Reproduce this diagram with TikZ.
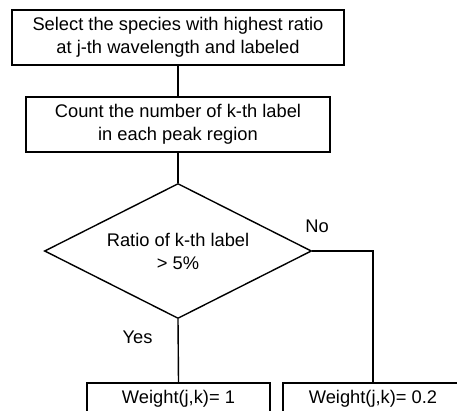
\documentclass[tikz,border=0pt]{standalone}
\usepackage{fontspec}
\setmainfont{Liberation Sans}
\usetikzlibrary{shapes.geometric,positioning}
\tikzset{
  stepbox/.style={draw,line width=1.4pt,rectangle,align=center,inner sep=0pt,font=\fontsize{18.3}{23}\selectfont},
  decision/.style={draw,line width=1.4pt,diamond,aspect=2,align=center,inner sep=0pt,minimum width=267pt,minimum height=135pt,font=\fontsize{18.3}{23}\selectfont},
  flowline/.style={draw,line width=1.4pt},
  branchlabel/.style={font=\fontsize{18.3}{20}\selectfont,inner sep=0pt},
}
\begin{document}
\begin{tikzpicture}[x=1pt,y=-1pt]
\useasboundingbox (0,0) rectangle (457,411);

% steps of the flow
\node[stepbox,minimum width=332pt,minimum height=55pt] (select) at (178,37.5) {Select the species with highest ratio\\at j-th wavelength and labeled};
\node[stepbox,minimum width=304pt,minimum height=55pt] (count) at (178,124.5) {Count the number of k-th label\\in each peak region};
\node[decision] (ratio) at (178,251) {Ratio of k-th label\\> 5\%};

% results (cut at the lower edge)
\node[stepbox,minimum width=183pt,minimum height=32pt] (high) at (178.5,399) {Weight(j,k)= 1};
\node[stepbox,minimum width=180pt,minimum height=32pt] (low) at (373,399) {Weight(j,k)= 0.2};

% connections
\path[flowline] (select) -- (count);
\path[flowline] (count) -- (ratio.north);
\path[flowline] (ratio.south) -- node[branchlabel,pos=0.28,left=25pt] {Yes} (high.north);
\path[flowline] (ratio.east) -| node[branchlabel,pos=0.04,above=18pt] {No} (low.north);

\end{tikzpicture}
\end{document}
